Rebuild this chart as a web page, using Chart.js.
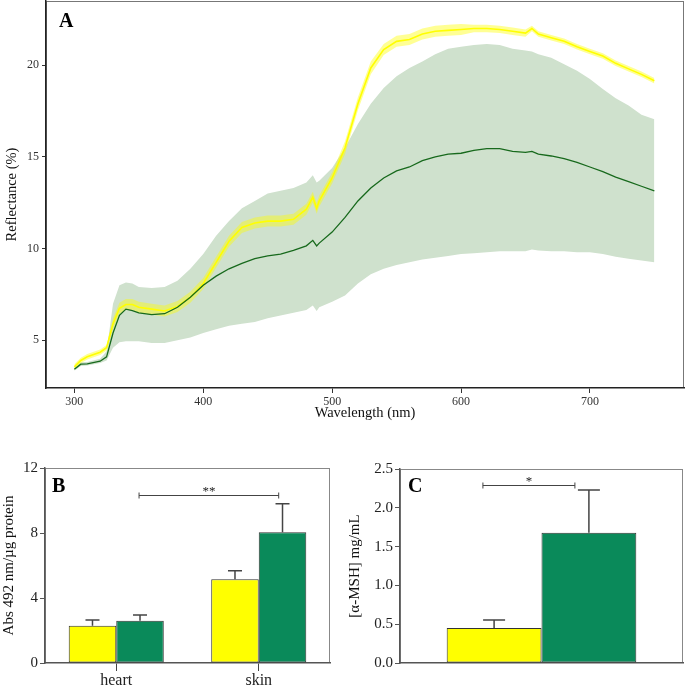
<!DOCTYPE html>
<html>
<head>
<meta charset="utf-8">
<script src="https://cdn.jsdelivr.net/npm/chart.js@4.4.1/dist/chart.umd.min.js"></script>
<style>
  html, body { margin: 0; padding: 0; background: #fff; }
  #wrap { position: relative; width: 685px; height: 685px; }
  canvas { position: absolute; }
</style>
</head>
<body>
<div id="wrap">
  <canvas id="chartA" width="685" height="425" style="left:0;top:0"></canvas>
  <canvas id="chartB" width="340" height="260" style="left:0;top:425px"></canvas>
  <canvas id="chartC" width="345" height="260" style="left:340px;top:425px"></canvas>
</div>
<script>
// ---- panel A: reflectance spectra ----
const wavelengths = [
  300, 305, 310, 320, 325, 330, 335, 340, 345, 350,
  360, 370, 380, 390, 400, 410, 420, 430, 440, 450,
  460, 470, 480, 485, 488, 490, 500, 510, 520, 530,
  540, 550, 560, 570, 580, 590, 600, 610, 620, 630,
  640, 650, 655, 660, 670, 680, 690, 700, 710, 720,
  730, 740, 750
];
const greenMean = [
  3.42, 3.7, 3.72, 3.86, 4.1, 5.4, 6.36, 6.7, 6.62, 6.5,
  6.4, 6.45, 6.8, 7.35, 8.0, 8.5, 8.9, 9.2, 9.45, 9.6,
  9.7, 9.9, 10.15, 10.45, 10.15, 10.3, 10.9, 11.7, 12.6, 13.3,
  13.85, 14.24, 14.45, 14.8, 15.0, 15.15, 15.2, 15.35, 15.45, 15.45,
  15.3, 15.25, 15.3, 15.15, 15.05, 14.9, 14.7, 14.45, 14.2, 13.9,
  13.65, 13.4, 13.15
];
const greenUpper = [
  3.5, 3.8, 3.82, 4.0, 4.4, 7.0, 8.0, 8.15, 8.1, 7.9,
  7.85, 7.9, 8.25, 8.9, 9.7, 10.7, 11.5, 12.2, 12.6, 13.0,
  13.15, 13.3, 13.6, 14.0, 13.6, 13.7, 14.4, 15.5, 16.8, 17.9,
  18.75, 19.4, 19.85, 20.2, 20.6, 20.9, 21.0, 21.1, 21.15, 21.1,
  20.9, 20.8, 20.75, 20.6, 20.4, 20.05, 19.7, 19.25, 18.7, 18.2,
  17.8, 17.3, 17.05
];
const greenLower = [
  3.34, 3.6, 3.62, 3.76, 3.9, 4.6, 4.9, 4.95, 4.95, 4.95,
  4.85, 4.85, 5.0, 5.15, 5.4, 5.6, 5.8, 5.9, 6.0, 6.2,
  6.35, 6.5, 6.65, 6.9, 6.6, 6.8, 7.1, 7.45, 8.1, 8.6,
  8.9, 9.1, 9.25, 9.4, 9.5, 9.6, 9.7, 9.75, 9.8, 9.85,
  9.85, 9.85, 9.95, 9.9, 9.85, 9.85, 9.8, 9.8, 9.7, 9.55,
  9.45, 9.35, 9.25
];
const yellowMean = [
  3.55, 3.9, 4.1, 4.35, 4.6, 5.9, 6.75, 6.95, 6.95, 6.8,
  6.7, 6.6, 6.85, 7.35, 8.1, 9.25, 10.4, 11.15, 11.4, 11.5,
  11.5, 11.6, 12.15, 12.8, 12.2, 12.6, 13.85, 15.5, 17.9, 19.85,
  20.85, 21.3, 21.4, 21.7, 21.85, 21.9, 21.95, 22.0, 22.0, 21.95,
  21.85, 21.75, 22.0, 21.7, 21.5, 21.3, 21.0, 20.75, 20.5, 20.1,
  19.8, 19.5, 19.15
];
const yellowUpper = [
  3.7, 4.05, 4.25, 4.5, 4.75, 6.2, 7.05, 7.25, 7.25, 7.1,
  7.0, 6.9, 7.15, 7.65, 8.4, 9.55, 10.7, 11.45, 11.7, 11.8,
  11.8, 11.9, 12.45, 13.1, 12.5, 12.9, 14.15, 15.85, 18.25, 20.2,
  21.15, 21.6, 21.7, 22.0, 22.15, 22.2, 22.25, 22.2, 22.2, 22.15,
  22.05, 21.95, 22.15, 21.85, 21.65, 21.45, 21.15, 20.9, 20.65, 20.25,
  19.95, 19.65, 19.3
];
const yellowLower = [
  3.4, 3.75, 3.95, 4.2, 4.45, 5.6, 6.45, 6.65, 6.65, 6.5,
  6.4, 6.3, 6.55, 7.05, 7.8, 8.95, 10.1, 10.85, 11.1, 11.2,
  11.2, 11.3, 11.85, 12.5, 11.9, 12.3, 13.55, 15.15, 17.55, 19.5,
  20.55, 21.0, 21.1, 21.4, 21.55, 21.6, 21.65, 21.8, 21.8, 21.75,
  21.65, 21.55, 21.85, 21.55, 21.35, 21.15, 20.85, 20.6, 20.35, 19.95,
  19.65, 19.35, 19.0
];
const aXTicks = [300, 400, 500, 600, 700];
const aYTicks = [5, 10, 15, 20];

// ---- panel B: melanin ----
const bCategories = ['heart', 'skin'];
const bYellow = [2.3, 5.15];
const bYellowErr = [0.35, 0.53];
const bGreen = [2.6, 8.05];
const bGreenErr = [0.35, 1.75];
const bSignif = { from: 0.16, to: 1.14, y: 10.34, label: '**' };

// ---- panel C: alpha-MSH ----
const cCategories = [''];
const cYellow = [0.45];
const cYellowErr = [0.105];
const cGreen = [1.68];
const cGreenErr = [0.55];
const cSignif = { from: -0.207, to: 0.118, y: 2.29, label: '*' };

const SERIF = "'Liberation Serif', 'DejaVu Serif', serif";
const YELLOW = '#ffff00';
const GREEN_BAR = '#0a8a5a';
const GREEN_LINE = '#17691c';

const pts = arr => wavelengths.map((w, i) => ({ x: w, y: arr[i] }));

// no extra room for edge tick labels, the panels are laid out by hand
const noEdgePad = s => { s.paddingTop = 0; s.paddingBottom = 0; s.paddingLeft = 0; s.paddingRight = 0; };

const decor = {
  id: 'decor',
  beforeDraw(chart, args, opts) {
    const { ctx, chartArea: a } = chart;
    ctx.save();
    ctx.strokeStyle = opts.frameColor || '#888';
    ctx.lineWidth = 1;
    ctx.strokeRect(a.left + 0.5, a.top + 0.5, a.right - a.left - 1, a.bottom - a.top - 1);
    ctx.restore();
  },
  afterDatasetsDraw(chart, args, opts) {
    const { ctx } = chart;
    const x = chart.scales.x, y = chart.scales.y;
    ctx.save();
    // error bars (upper whisker only)
    chart.data.datasets.forEach((ds, di) => {
      if (!ds.err) return;
      chart.getDatasetMeta(di).data.forEach((bar, i) => {
        const top = y.getPixelForValue(ds.data[i] + ds.err[i]);
        ctx.strokeStyle = '#444';
        ctx.lineWidth = 1.5;
        ctx.beginPath();
        ctx.moveTo(bar.x, bar.y);
        ctx.lineTo(bar.x, top);
        ctx.moveTo(bar.x - opts.cap / 2, top);
        ctx.lineTo(bar.x + opts.cap / 2, top);
        ctx.stroke();
      });
    });
    // significance bracket
    if (opts.signif) {
      const s = opts.signif;
      const x1 = x.getPixelForValue(s.from), x2 = x.getPixelForValue(s.to);
      const yy = Math.round(y.getPixelForValue(s.y)) + 0.5;
      ctx.strokeStyle = '#444';
      ctx.lineWidth = 1;
      ctx.beginPath();
      ctx.moveTo(x1, yy); ctx.lineTo(x2, yy);
      ctx.moveTo(x1, yy - 3); ctx.lineTo(x1, yy + 3);
      ctx.moveTo(x2, yy - 3); ctx.lineTo(x2, yy + 3);
      ctx.stroke();
      ctx.fillStyle = '#222';
      ctx.font = '13px ' + SERIF;
      ctx.textAlign = 'center';
      ctx.textBaseline = 'alphabetic';
      ctx.fillText(s.label, (x1 + x2) / 2, yy - 1);
    }
    // panel letter
    ctx.fillStyle = '#000';
    ctx.font = 'bold 20px ' + SERIF;
    ctx.textAlign = 'left';
    ctx.textBaseline = 'alphabetic';
    ctx.fillText(opts.letter, opts.lx, opts.ly);
    ctx.restore();
  }
};

const tickFont = size => ({ family: SERIF, size });

// Panel A
new Chart(document.getElementById('chartA'), {
  type: 'line',
  data: {
    datasets: [
      { data: pts(greenUpper), fill: '+1', backgroundColor: '#cfe1cd', borderColor: 'transparent', borderWidth: 0, pointRadius: 0, order: 4 },
      { data: pts(greenLower), fill: false, borderColor: 'transparent', borderWidth: 0, pointRadius: 0, order: 4 },
      { data: pts(yellowUpper), fill: '+1', backgroundColor: 'rgba(255,255,0,0.42)', borderColor: 'transparent', borderWidth: 0, pointRadius: 0, order: 3 },
      { data: pts(yellowLower), fill: false, borderColor: 'transparent', borderWidth: 0, pointRadius: 0, order: 3 },
      { data: pts(yellowMean), fill: false, borderColor: YELLOW, borderWidth: 1.6, pointRadius: 0, order: 2 },
      { data: pts(greenMean), fill: false, borderColor: GREEN_LINE, borderWidth: 1.3, pointRadius: 0, order: 1 }
    ]
  },
  options: {
    responsive: false,
    animation: false,
    layout: { padding: { top: 1, right: 1, left: 0, bottom: 0 } },
    scales: {
      x: {
        type: 'linear', min: 278, max: 773,
        afterBuildTicks: s => { s.ticks = aXTicks.map(v => ({ value: v })); },
        afterFit: s => { s.height = 37; noEdgePad(s); },
        ticks: { font: tickFont(12), color: '#333', padding: 2 },
        grid: { drawOnChartArea: false, drawTicks: true, tickLength: 5, color: '#333' },
        border: { display: true, color: '#222', width: 1.5 },
        title: { display: true, text: 'Wavelength (nm)', font: tickFont(14.5), color: '#111', padding: { top: 0, bottom: 3 } }
      },
      y: {
        type: 'linear', min: 2.4, max: 23.5,
        afterBuildTicks: s => { s.ticks = aYTicks.map(v => ({ value: v })); },
        afterFit: s => { s.width = 46; noEdgePad(s); },
        ticks: { font: tickFont(12), color: '#333', padding: 3 },
        grid: { drawOnChartArea: false, drawTicks: true, tickLength: 4, color: '#333' },
        border: { display: true, color: '#222', width: 1.5 },
        title: { display: true, text: 'Reflectance (%)', font: tickFont(14.5), color: '#111', padding: { top: 3, bottom: 0 } }
      }
    },
    plugins: {
      legend: { display: false },
      tooltip: { enabled: false },
      decor: { letter: 'A', lx: 59, ly: 27, frameColor: '#777' }
    }
  },
  plugins: [decor]
});

// Panel B
new Chart(document.getElementById('chartB'), {
  type: 'bar',
  data: {
    labels: bCategories,
    datasets: [
      { data: bYellow, err: bYellowErr, backgroundColor: YELLOW, borderColor: '#333', borderWidth: 1, borderSkipped: false },
      { data: bGreen, err: bGreenErr, backgroundColor: GREEN_BAR, borderColor: '#333', borderWidth: 1, borderSkipped: false }
    ]
  },
  options: {
    responsive: false,
    animation: false,
    datasets: { bar: { categoryPercentage: 0.667, barPercentage: 1 } },
    layout: { padding: { top: 43, right: 10, left: 0, bottom: 0 } },
    scales: {
      x: {
        afterFit: s => { s.height = 22; noEdgePad(s); },
        ticks: { font: tickFont(16), color: '#222', padding: 0 },
        grid: { offset: false, drawOnChartArea: false, drawTicks: true, tickLength: 8, color: '#444' },
        border: { display: true, color: '#555', width: 1.5 }
      },
      y: {
        min: 0, max: 12,
        ticks: { stepSize: 4, font: tickFont(15), color: '#222', padding: 2 },
        afterFit: s => { s.width = 45; noEdgePad(s); },
        grid: { drawOnChartArea: false, drawTicks: true, tickLength: 5, color: '#555' },
        border: { display: true, color: '#555', width: 1.5 },
        title: { display: true, text: 'Abs 492 nm/µg protein', font: tickFont(15), color: '#111', padding: { top: 0, bottom: 0 } }
      }
    },
    plugins: {
      legend: { display: false },
      tooltip: { enabled: false },
      decor: { letter: 'B', lx: 52, ly: 67, cap: 14, signif: bSignif, frameColor: '#888' }
    }
  },
  plugins: [decor]
});

// Panel C
new Chart(document.getElementById('chartC'), {
  type: 'bar',
  data: {
    labels: cCategories,
    datasets: [
      { data: cYellow, err: cYellowErr, backgroundColor: YELLOW, borderColor: '#333', borderWidth: 1, borderSkipped: false },
      { data: cGreen, err: cGreenErr, backgroundColor: GREEN_BAR, borderColor: '#333', borderWidth: 1, borderSkipped: false }
    ]
  },
  options: {
    responsive: false,
    animation: false,
    datasets: { bar: { categoryPercentage: 0.67, barPercentage: 1 } },
    layout: { padding: { top: 44, right: 2, left: 0, bottom: 0 } },
    scales: {
      x: {
        afterFit: s => { s.height = 22; noEdgePad(s); },
        ticks: { display: false },
        grid: { display: false },
        border: { display: true, color: '#555', width: 1.5 }
      },
      y: {
        min: 0, max: 2.5,
        ticks: { stepSize: 0.5, font: tickFont(15), color: '#222', padding: 2, callback: v => v.toFixed(1) },
        afterFit: s => { s.width = 60; noEdgePad(s); },
        grid: { drawOnChartArea: false, drawTicks: true, tickLength: 5, color: '#555' },
        border: { display: true, color: '#555', width: 1.5 },
        title: { display: true, text: '[α-MSH] mg/mL', font: tickFont(15), color: '#111', padding: { top: 6, bottom: 0 } }
      }
    },
    plugins: {
      legend: { display: false },
      tooltip: { enabled: false },
      decor: { letter: 'C', lx: 68, ly: 67, cap: 22, signif: cSignif, frameColor: '#888' }
    }
  },
  plugins: [decor]
});
</script>
</body>
</html>
